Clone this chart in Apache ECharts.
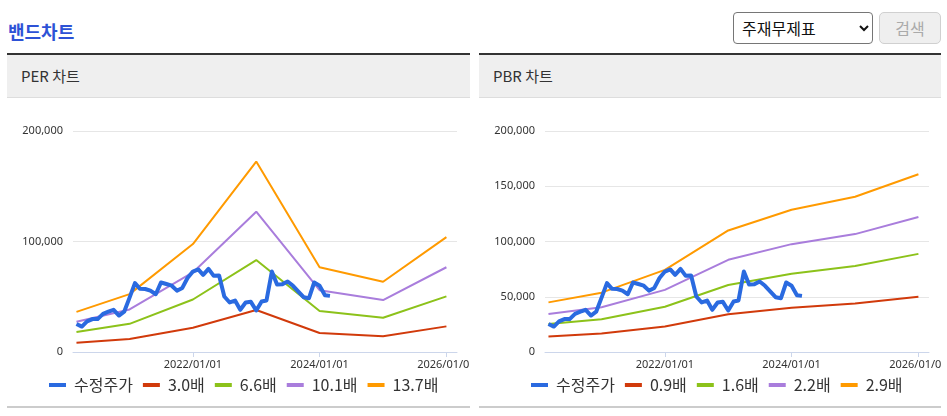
<!DOCTYPE html>
<html><head><meta charset="utf-8">
<script src="https://cdn.jsdelivr.net/npm/echarts@6/dist/echarts.min.js"></script>
<style>
html,body{margin:0;padding:0;background:#fff;width:947px;height:416px;overflow:hidden;font-family:"Noto Sans CJK KR","Noto Sans",sans-serif;}
#title{position:absolute;left:8px;top:18px;font-size:18px;font-weight:bold;color:#2d52d6;line-height:26px;}
#sel{position:absolute;left:733px;top:12px;width:140px;height:32px;box-sizing:border-box;border:1px solid #767676;border-radius:4px;font-size:16px;font-family:"Noto Sans CJK KR";color:#111;padding:0 4px;background:#fff;}
#btn{position:absolute;left:879px;top:12px;width:62px;height:32px;box-sizing:border-box;border:1px solid #d0d0d0;border-radius:5px;background:#efefef;color:#aaa;font-size:16px;font-family:"Noto Sans CJK KR";}
.ph{position:absolute;top:53px;height:42px;border-top:2px solid #333;border-bottom:1px solid #ddd;background:#efefef;box-sizing:content-box;}
.ph span{position:absolute;left:14px;top:10px;font-size:15px;line-height:22px;color:#333;}
.chart{position:absolute;top:97px;height:308px;}
.bl{position:absolute;top:406px;height:2px;background:#ccc;}
</style></head>
<body>
<div id="title">밴드차트</div>
<select id="sel"><option>주재무제표</option></select>
<button id="btn" disabled>검색</button>
<div class="ph" style="left:7px;width:463px;"><span>PER 차트</span></div>
<div class="ph" style="left:479px;width:462px;"><span>PBR 차트</span></div>
<div id="per" class="chart" style="left:7px;width:463px;"></div>
<div id="pbr" class="chart" style="left:479px;width:462px;"></div>
<div class="bl" style="left:7px;width:463px;"></div>
<div class="bl" style="left:479px;width:462px;"></div>
<script>
// ---- data ----
const priceName = '수정주가';
const priceDates = [
 '2020-03-01','2020-04-01','2020-05-01','2020-06-01','2020-07-01','2020-08-01','2020-09-01','2020-10-01','2020-11-01','2020-12-01',
 '2021-01-01','2021-02-01','2021-03-01','2021-04-01','2021-05-01','2021-06-01','2021-07-01','2021-08-01','2021-09-01','2021-10-01','2021-11-01','2021-12-01',
 '2022-01-01','2022-02-01','2022-03-01','2022-04-01','2022-05-01','2022-06-01','2022-07-01','2022-08-01','2022-09-01','2022-10-01','2022-11-01','2022-12-01',
 '2023-01-01','2023-02-01','2023-03-01','2023-04-01','2023-05-01','2023-06-01','2023-07-01','2023-08-01','2023-09-01','2023-10-01','2023-11-01','2023-12-01',
 '2024-01-01','2024-02-01','2024-03-01'];
const priceValues = [
 25300,23000,27700,29800,29800,34500,36500,38200,33000,36500,
 49200,62300,57300,57000,55500,52300,62900,61500,60000,55500,58000,67000,
 72800,74700,69800,75200,68900,69200,50200,44800,46600,38200,44800,45400,
 37600,45700,46600,72800,61100,61400,63800,59900,54700,49600,48700,62900,
 59900,51400,50800];
const bandDates = ['2020-03-01','2021-01-01','2022-01-01','2023-01-01','2024-01-01','2025-01-01','2026-01-01'];

const perNames = ['3.0배','6.6배','10.1배','13.7배'];
const per30  = [8400, 11800, 21900, 38000, 17200, 14300, 23200];
const per66  = [18000, 25500, 47500, 83200, 37100, 31000, 50300];
const per101 = [27400, 38500, 72000, 127000, 55900, 47000, 76700];
const per137 = [36300, 52400, 97700, 172300, 76700, 63600, 104000];

const pbrNames = ['0.9배','1.6배','2.2배','2.9배'];
const pbr09 = [13950, 16700, 23100, 34200, 40000, 43800, 50000];
const pbr16 = [25300, 29700, 40900, 60600, 70800, 77800, 88800];
const pbr22 = [34400, 40500, 56200, 83400, 97600, 106700, 122100];
const pbr29 = [44900, 53700, 74300, 110000, 128800, 140500, 160800];

const xTickDates = ['2022-01-01','2024-01-01','2026-01-01'];
const xMin = '2020-02-10', xMax = '2026-03-03';
const perYMax = 200000, perYStep = 100000;
const pbrYMax = 200000, pbrYStep = 50000;

// ---- styles ----
const priceColor = '#2a6ae0';
const bandColors = ['#d13a0b','#8cc21a','#a97ddc','#ff9a00'];

function ts(s){ const p = s.split('-').map(Number); return Date.UTC(p[0], p[1]-1, p[2]); }
function pad(n){ return (n<10?'0':'')+n; }

function makeOption(names, bands, yMax, yStep, gridLeft, gridRight, legendLeft){
  const series = [{
    name: priceName, type: 'line', z: 5, symbol: 'none',
    data: priceDates.map((d,i)=>[ts(d), priceValues[i]]),
    lineStyle: {color: priceColor, width: 4, join: 'round'},
    itemStyle: {color: priceColor}
  }];
  names.forEach((n,k)=>{
    series.push({
      name: n, type: 'line', z: 2, symbol: 'none',
      data: bandDates.map((d,i)=>[ts(d), bands[k][i]]),
      lineStyle: {color: bandColors[k], width: 2},
      itemStyle: {color: bandColors[k]}
    });
  });
  return {
    animation: false,
    grid: {left: gridLeft, right: gridRight, top: 34, bottom: 53, containLabel: false, outerBoundsMode: 'none'},
    legend: {
      left: legendLeft, top: 280, padding: 0, icon: 'rect', itemWidth: 17, itemHeight: 4, itemGap: 10,
      textStyle: {fontSize: 16, color: '#333', fontFamily: '"Noto Sans CJK KR"', padding: [0,0,0,3]},
      data: [priceName].concat(names)
    },
    xAxis: {
      type: 'value', min: ts(xMin), max: ts(xMax),
      axisLine: {lineStyle: {color: '#ccd6eb', width: 1}},
      axisTick: {show: true, length: 5, lineStyle: {color: '#ccd6eb'}, customValues: xTickDates.map(ts)},
      axisLabel: {
        customValues: xTickDates.map(ts), fontSize: 11, color: '#333', margin: 7,
        fontFamily: '"Noto Sans", sans-serif', hideOverlap: false,
        formatter: function(v){ const d = new Date(v); return d.getUTCFullYear()+'/'+pad(d.getUTCMonth()+1)+'/'+pad(d.getUTCDate()); }
      },
      splitLine: {show: false}
    },
    yAxis: {
      type: 'value', min: 0, max: yMax, interval: yStep,
      axisLine: {show: false}, axisTick: {show: false},
      axisLabel: {fontSize: 11, color: '#333', margin: 10, fontFamily: '"Noto Sans", sans-serif',
        formatter: function(v){ return v.toLocaleString('en-US'); }},
      splitLine: {lineStyle: {color: '#e6e6e6', width: 1}}
    },
    series: series
  };
}

const perChart = echarts.init(document.getElementById('per'));
perChart.setOption(makeOption(perNames, [per30, per66, per101, per137], perYMax, perYStep, 66, 13, 42));
const pbrChart = echarts.init(document.getElementById('pbr'));
pbrChart.setOption(makeOption(pbrNames, [pbr09, pbr16, pbr22, pbr29], pbrYMax, pbrYStep, 66, 12, 52));
</script>
</body></html>
